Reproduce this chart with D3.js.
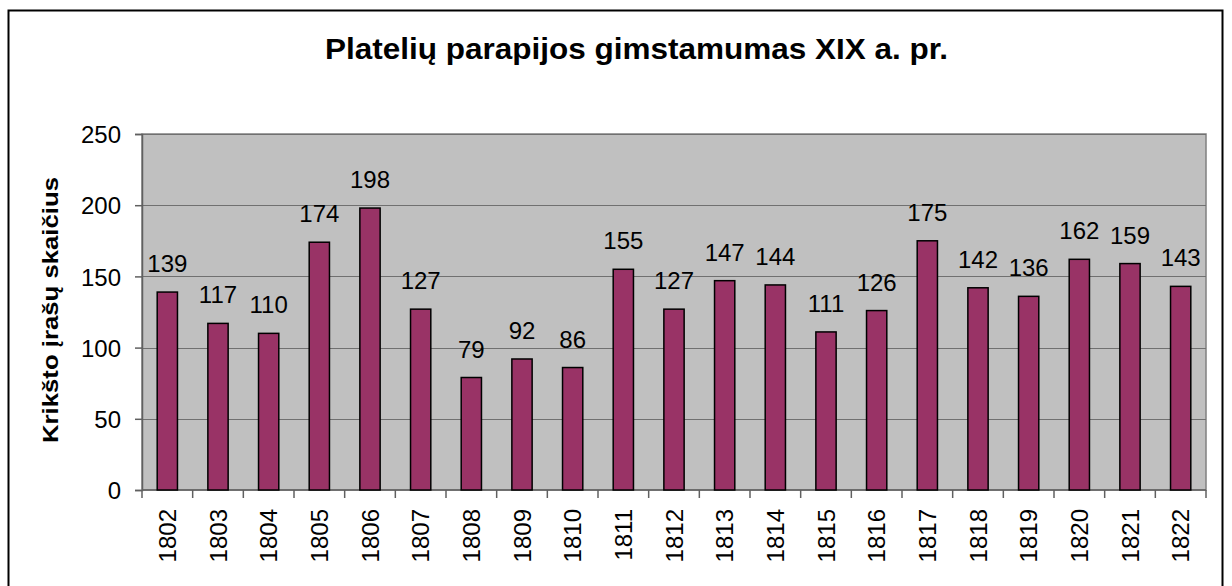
<!DOCTYPE html>
<html>
<head>
<meta charset="utf-8">
<script src="https://cdn.jsdelivr.net/npm/d3@7/dist/d3.min.js"></script>
<style>
  html, body { margin: 0; padding: 0; background: #ffffff; }
  svg { display: block; font-family: "Liberation Sans", Arial, sans-serif; }
</style>
</head>
<body>
<svg id="chart" width="1232" height="586"></svg>
<script>
const years = ["1802","1803","1804","1805","1806","1807","1808","1809","1810","1811","1812","1813","1814","1815","1816","1817","1818","1819","1820","1821","1822"];
const baptisms = [139,117,110,174,198,127,79,92,86,155,127,147,144,111,126,175,142,136,162,159,143];
const yTicks = [0,50,100,150,200,250];
const titleText = "Platelių parapijos gimstamumas XIX a. pr.";
const yTitleText = "Krikšto įrašų skaičius";

const svg = d3.select("#chart");
const plot = {left: 142, right: 1206, top: 134, bottom: 490};

// outer frame
svg.append("rect").attr("x", 8.5).attr("y", 10.5).attr("width", 1214).attr("height", 600)
  .attr("fill", "#ffffff").attr("stroke", "#000000").attr("stroke-width", 2);

const x = d3.scaleBand().domain(years).range([plot.left, plot.right]).paddingInner(0.6).paddingOuter(0.3);
const xb = d3.scaleBand().domain(years).range([plot.left, plot.right]);
const y = d3.scaleLinear().domain([0, 250]).range([plot.bottom, plot.top]);

// plot background
svg.append("rect").attr("x", plot.left).attr("y", plot.top)
  .attr("width", plot.right - plot.left).attr("height", plot.bottom - plot.top)
  .attr("fill", "#c0c0c0").attr("stroke", "#808080").attr("stroke-width", 1.5);

// gridlines
svg.append("g").selectAll("line").data(yTicks.filter(d => d > 0)).join("line")
  .attr("x1", plot.left).attr("x2", plot.right)
  .attr("y1", d => Math.round(y(d)) + 0.5).attr("y2", d => Math.round(y(d)) + 0.5)
  .attr("stroke", "#707070").attr("stroke-width", 1.2);

// y axis
const yAxis = d3.axisLeft(y).tickValues(yTicks).tickSize(7).tickPadding(14).tickFormat(d3.format("d"));
const gy = svg.append("g").attr("transform", `translate(${plot.left},0)`).call(yAxis);
gy.select(".domain").attr("stroke", "#606060").attr("stroke-width", 1.5);
gy.selectAll(".tick line").attr("stroke", "#606060").attr("stroke-width", 1.5);
gy.selectAll(".tick text").attr("font-size", "24px").attr("fill", "#000").attr("font-family", "Liberation Sans, Arial, sans-serif").attr("dy", "0.36em");

// x axis with boundary ticks
const gx = svg.append("g").attr("transform", `translate(0,${plot.bottom})`);
gx.append("line").attr("x1", plot.left).attr("x2", plot.right).attr("y1", 0).attr("y2", 0)
  .attr("stroke", "#606060").attr("stroke-width", 1.5);
const bounds = years.map(d => xb(d)).concat([xb(years[years.length - 1]) + xb.bandwidth()]);
gx.selectAll("line.tk").data(bounds).join("line").attr("class", "tk")
  .attr("x1", d => d).attr("x2", d => d).attr("y1", 0).attr("y2", 8)
  .attr("stroke", "#606060").attr("stroke-width", 1.5);
gx.selectAll("text").data(years).join("text")
  .attr("transform", d => `translate(${xb(d) + xb.bandwidth() / 2 + 8.5},${19}) rotate(-90)`)
  .attr("text-anchor", "end").attr("font-size", "24px").attr("fill", "#000")
  .text(d => d);

// bars
svg.append("g").selectAll("rect").data(years).join("rect")
  .attr("x", d => x(d)).attr("width", x.bandwidth())
  .attr("y", (d, i) => y(baptisms[i])).attr("height", (d, i) => y(0) - y(baptisms[i]))
  .attr("fill", "#993366").attr("stroke", "#000000").attr("stroke-width", 1.5);

// value labels
svg.append("g").selectAll("text").data(years).join("text")
  .attr("x", d => xb(d) + xb.bandwidth() / 2)
  .attr("y", (d, i) => y(baptisms[i]) - 20)
  .attr("text-anchor", "middle").attr("font-size", "24px").attr("fill", "#000")
  .text((d, i) => baptisms[i]);

// title
svg.append("text").attr("x", 636.5).attr("y", 59).attr("text-anchor", "middle")
  .attr("font-size", "30px").attr("font-weight", "bold").attr("fill", "#000")
  .attr("textLength", 623).attr("lengthAdjust", "spacingAndGlyphs")
  .text(titleText);

// y title
svg.append("text").attr("transform", `translate(58,310) rotate(-90)`)
  .attr("text-anchor", "middle").attr("font-size", "22px").attr("font-weight", "bold").attr("fill", "#000")
  .attr("textLength", 266).attr("lengthAdjust", "spacingAndGlyphs")
  .text(yTitleText);
</script>
</body>
</html>
